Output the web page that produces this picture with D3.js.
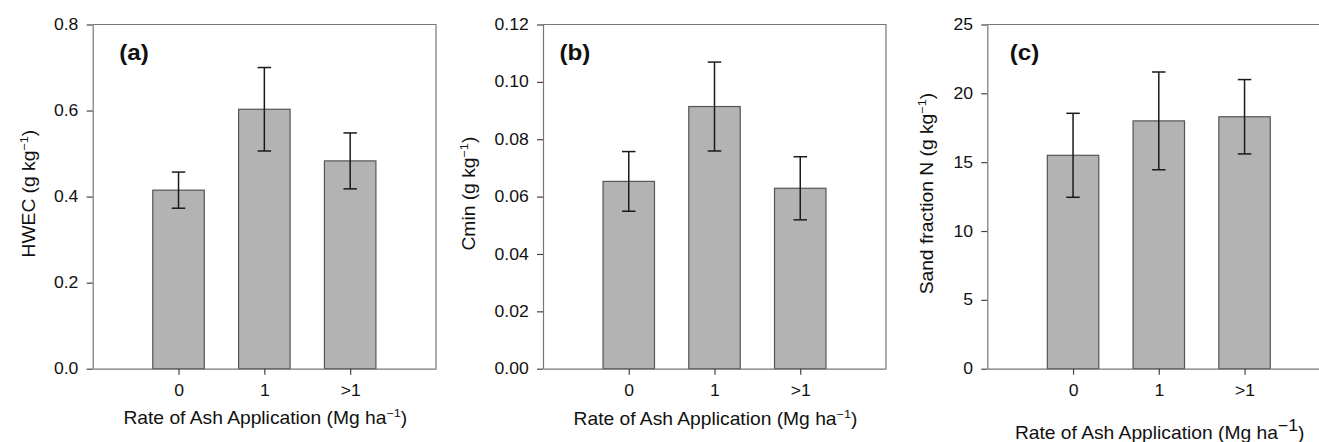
<!DOCTYPE html>
<html>
<head>
<meta charset="utf-8">
<script src="https://cdn.jsdelivr.net/npm/d3@7"></script>
<style>
  html, body { margin: 0; padding: 0; background: #fff; }
  svg { display: block; font-family: "Liberation Sans", Arial, sans-serif; }
</style>
</head>
<body>
<svg id="chart" width="1319" height="442"></svg>
<script>
// Treatment categories (rate of ash application, Mg ha-1)
const categories = ["0", "1", ">1"];

// Panel (a): hot-water extractable carbon, mean and standard error
const hwecMean = [0.415, 0.603, 0.483];
const hwecErr  = [0.042, 0.097, 0.065];
const hwecTicks = [0.0, 0.2, 0.4, 0.6, 0.8];

// Panel (b): mineralisable carbon
const cminMean = [0.0653, 0.0914, 0.0629];
const cminErr  = [0.0104, 0.0155, 0.0110];
const cminTicks = [0.00, 0.02, 0.04, 0.06, 0.08, 0.10, 0.12];

// Panel (c): nitrogen in the sand fraction
const sandMean = [15.5, 18.0, 18.3];
const sandErr  = [3.05, 3.55, 2.70];
const sandTicks = [0, 5, 10, 15, 20, 25];

const panels = [
  { tag: "(a)", yName: "HWEC", mean: hwecMean, err: hwecErr, ticks: hwecTicks, fmt: d3.format(".1f") },
  { tag: "(b)", yName: "Cmin", mean: cminMean, err: cminErr, ticks: cminTicks, fmt: d3.format(".2f") },
  { tag: "(c)", yName: "Sand fraction N", mean: sandMean, err: sandErr, ticks: sandTicks, fmt: d3.format("d") }
];

// Layout of each panel on the page
const layout = [
  { left: 92.7,  right: 436.0,  yTitleDx: -58, tagDx: 26.5, xTitleY: 424, supScale: 0.66, supDy: 7 },
  { left: 543.0, right: 886.0,  yTitleDx: -68, tagDx: 16.5, xTitleY: 425, supScale: 0.66, supDy: 7 },
  { left: 987.3, right: 1330.3, yTitleDx: -54, tagDx: 22.5, xTitleY: 439, supScale: 0.92, supDy: 8 }
];
const plotTop = 24.5, plotBottom = 368.7;
const stretch = 1.1;          // horizontal widening of the lettering
const tickSize = 16, titleSize = 17.5, tagSize = 22;
const barFill = "#b3b3b3", barStroke = "#555", frameColor = "#777";

const svg = d3.select("#chart");

// Writes "label (g kg⁻¹)"-style text with a raised exponent
function unitText(sel, prefix, supScale, supDy, size) {
  sel.append("tspan").text(prefix);
  sel.append("tspan").attr("font-size", size * supScale).attr("dy", -supDy).text("\u22121");
  sel.append("tspan").attr("dy", supDy).text(")");
}

panels.forEach((p, i) => {
  const L = layout[i];
  const g = svg.append("g");

  const x = d3.scaleLinear().domain([0, 4]).range([L.left, L.right]);
  const y = d3.scaleLinear().domain([0, d3.max(p.ticks)]).range([plotBottom, plotTop]);
  const barW = x(0.6) - x(0);
  const capW = 13.5;

  // Frame (top and right edges)
  g.append("path")
    .attr("d", `M${x(0)},${y(d3.max(p.ticks))}H${x(4)}V${y(0)}`)
    .attr("fill", "none").attr("stroke", frameColor).attr("stroke-width", 1.2);

  // Bars
  g.selectAll("rect.bar").data(p.mean).join("rect")
    .attr("class", "bar")
    .attr("x", (d, j) => x(j + 1) - barW / 2)
    .attr("width", barW)
    .attr("y", d => y(d))
    .attr("height", d => y(0) - y(d))
    .attr("fill", barFill).attr("stroke", barStroke).attr("stroke-width", 1.2);

  // Error bars
  const eb = g.selectAll("g.err").data(p.mean.map((m, j) => ({ m, e: p.err[j], j }))).join("g")
    .attr("class", "err").attr("stroke", "#1a1a1a").attr("stroke-width", 1.5);
  eb.append("line")
    .attr("x1", d => x(d.j + 1)).attr("x2", d => x(d.j + 1))
    .attr("y1", d => y(d.m + d.e)).attr("y2", d => y(d.m - d.e));
  eb.append("line")
    .attr("x1", d => x(d.j + 1) - capW / 2).attr("x2", d => x(d.j + 1) + capW / 2)
    .attr("y1", d => y(d.m + d.e)).attr("y2", d => y(d.m + d.e));
  eb.append("line")
    .attr("x1", d => x(d.j + 1) - capW / 2).attr("x2", d => x(d.j + 1) + capW / 2)
    .attr("y1", d => y(d.m - d.e)).attr("y2", d => y(d.m - d.e));

  // Y axis
  const ya = g.append("g").attr("transform", `translate(${x(0)},0)`)
    .call(d3.axisLeft(y).tickValues(p.ticks).tickFormat(p.fmt).tickSize(6).tickSizeOuter(0).tickPadding(7));
  ya.attr("font-size", tickSize).attr("font-family", "Liberation Sans, Arial, sans-serif");
  ya.select(".domain").attr("stroke", frameColor).attr("stroke-width", 1.2);
  ya.selectAll(".tick line").attr("stroke", "#444").attr("stroke-width", 1.2);
  ya.selectAll(".tick text").attr("fill", "#111")
    .attr("transform", `scale(${stretch},1)`);

  // X axis
  const xa = g.append("g").attr("transform", `translate(0,${y(0)})`)
    .call(d3.axisBottom(x).tickValues([1, 2, 3]).tickFormat((d) => categories[d - 1])
      .tickSize(6).tickSizeOuter(0).tickPadding(10));
  xa.attr("font-size", tickSize).attr("font-family", "Liberation Sans, Arial, sans-serif");
  xa.select(".domain").attr("stroke", frameColor).attr("stroke-width", 1.2);
  xa.selectAll(".tick line").attr("stroke", "#444").attr("stroke-width", 1.2);
  xa.selectAll(".tick text").attr("fill", "#111")
    .attr("transform", `scale(${stretch},1)`);

  // Panel tag
  g.append("text")
    .attr("transform", `translate(${x(0) + L.tagDx},60) scale(${stretch},1)`)
    .attr("font-size", tagSize).attr("font-weight", "bold").attr("fill", "#111")
    .text(p.tag);

  // Y title
  const yt = g.append("text")
    .attr("transform", `translate(${x(0) + L.yTitleDx},${(plotTop + plotBottom) / 2 - 3}) rotate(-90) scale(${stretch},1)`)
    .attr("text-anchor", "middle").attr("font-size", titleSize).attr("fill", "#111");
  unitText(yt, p.yName + " (g kg", 0.66, 7, titleSize);

  // X title
  const xt = g.append("text")
    .attr("transform", `translate(${(x(0) + Math.min(x(4), 1319 + 11)) / 2 + 1},${L.xTitleY}) scale(${stretch},1)`)
    .attr("text-anchor", "middle").attr("font-size", titleSize).attr("fill", "#111");
  unitText(xt, "Rate of Ash Application (Mg ha", L.supScale, L.supDy, titleSize);
});
</script>
</body>
</html>
